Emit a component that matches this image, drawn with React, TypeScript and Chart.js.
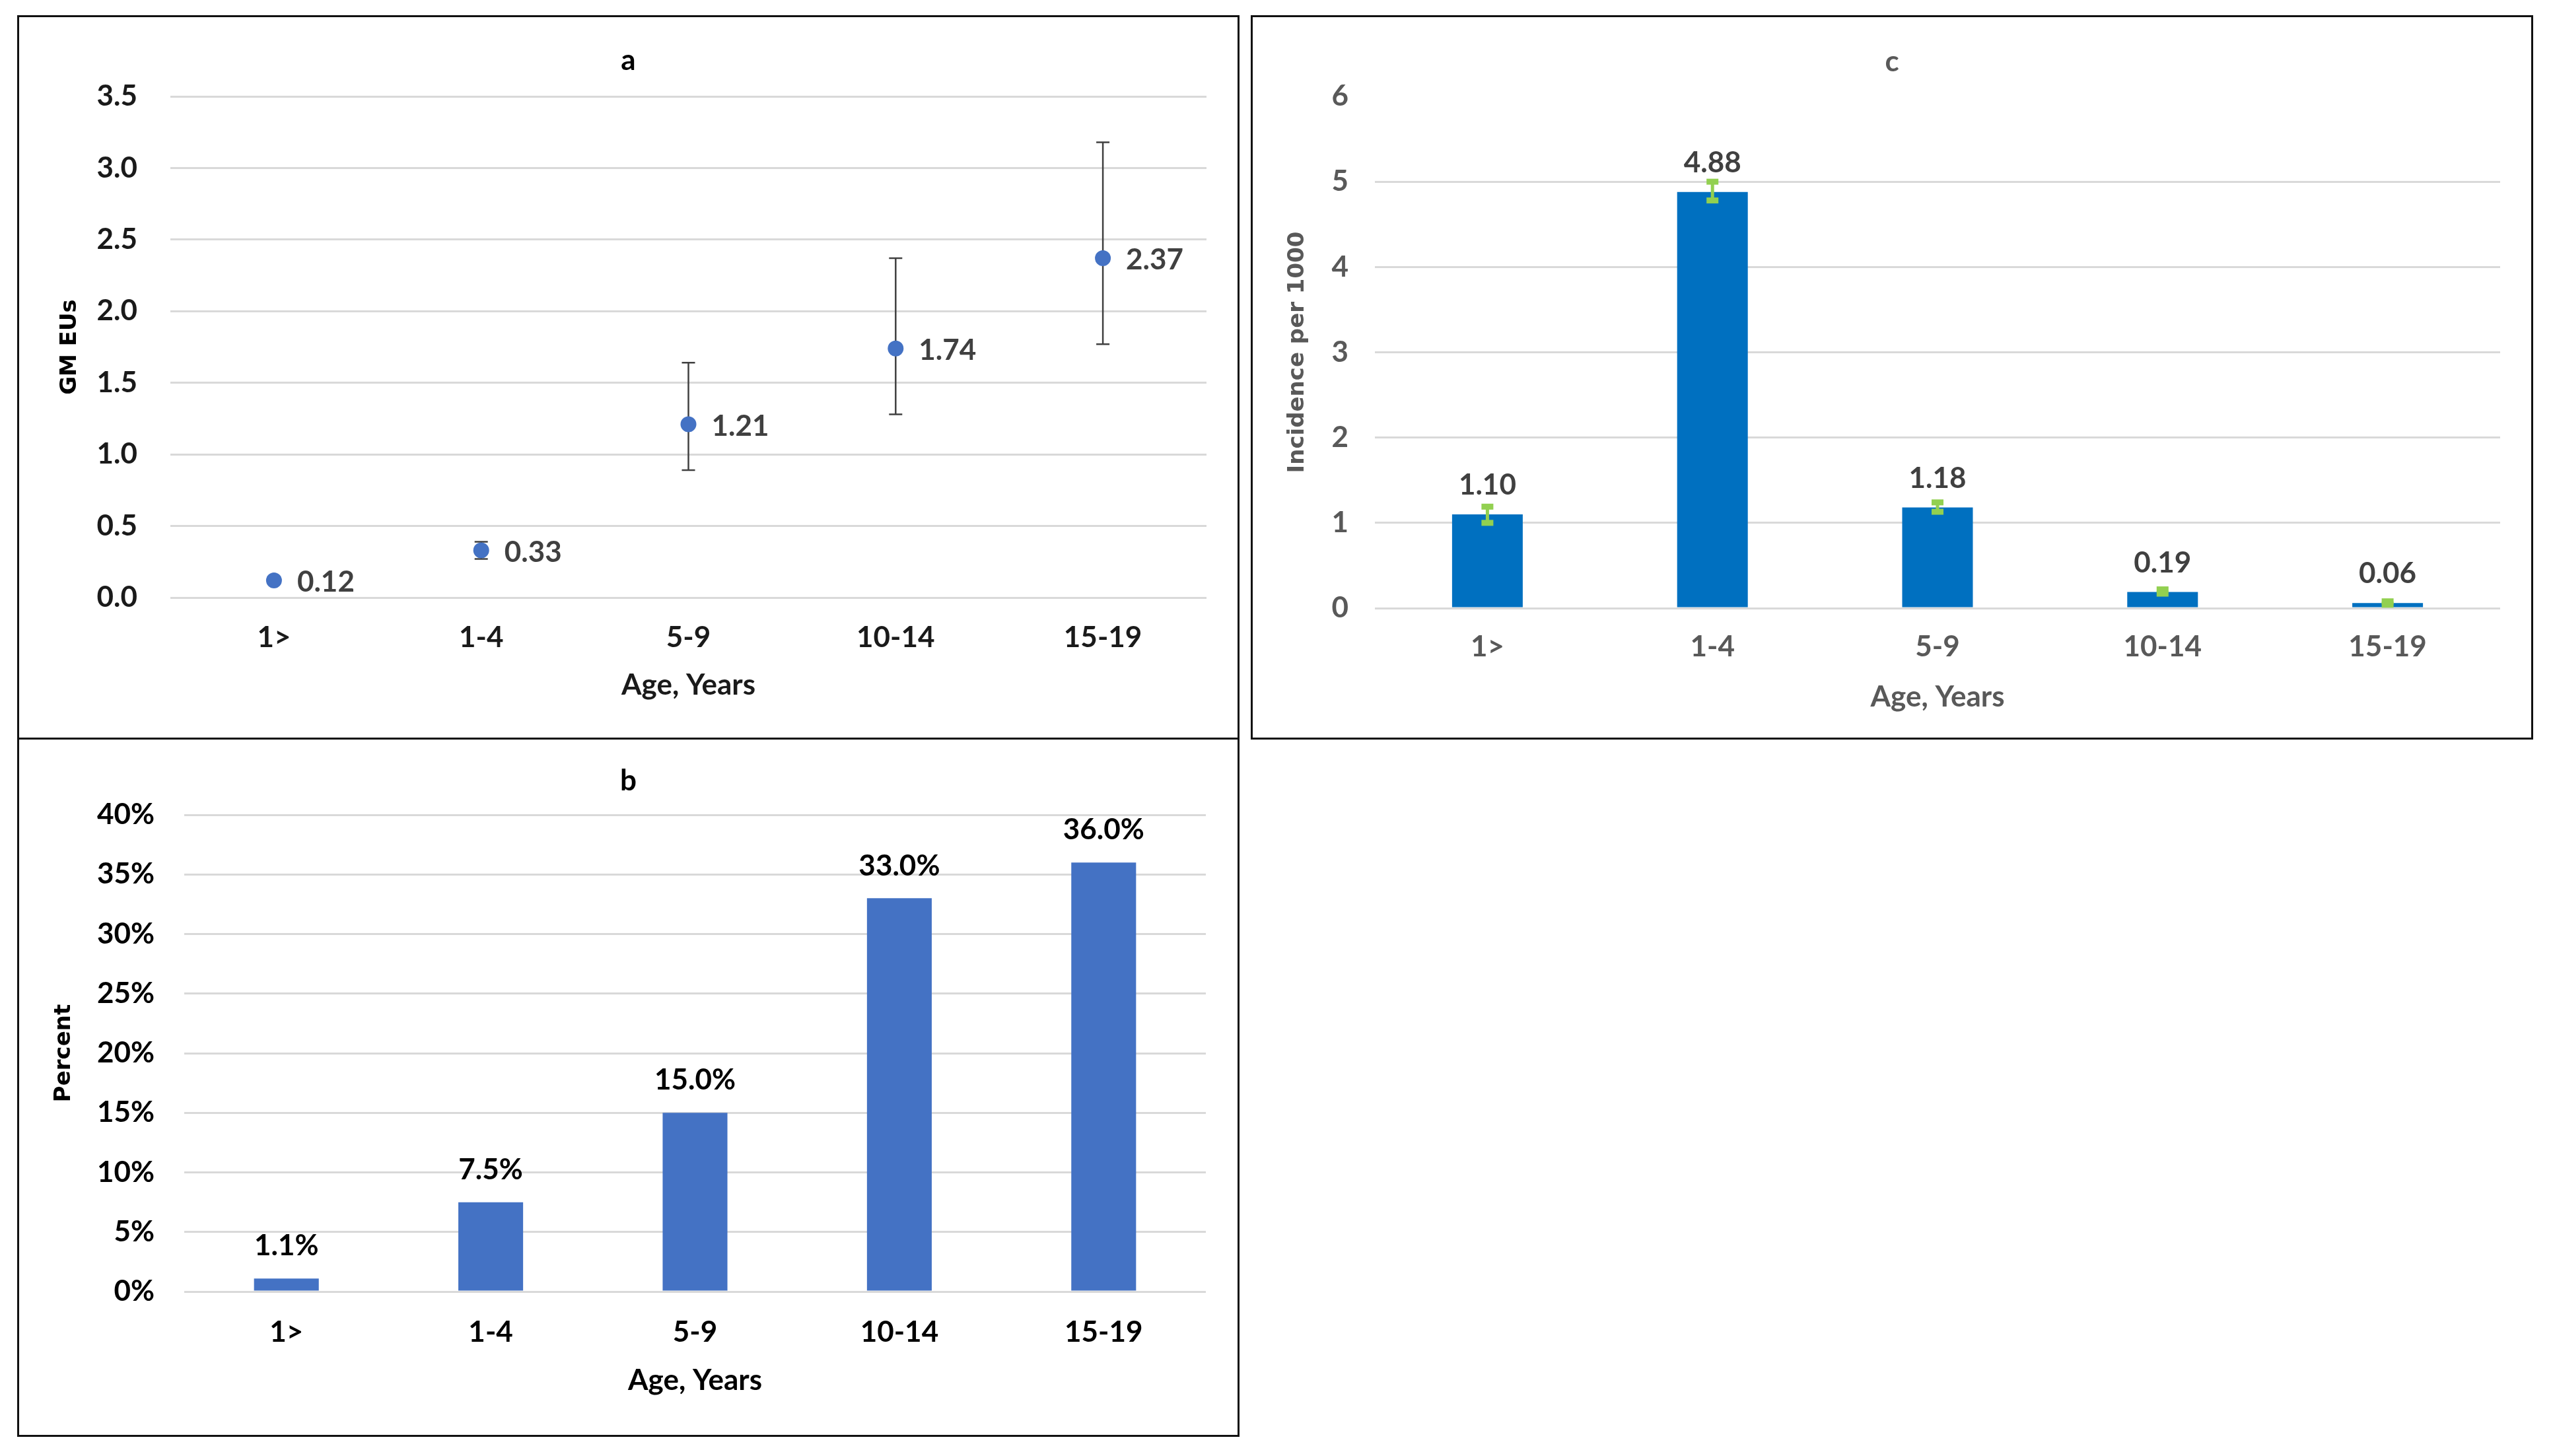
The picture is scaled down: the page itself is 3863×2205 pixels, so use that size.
import React, { useEffect, useRef } from 'react';
import { Chart, registerables } from 'chart.js';

Chart.register(...registerables);

// ---------------- data ----------------
const categories = ['1>', '1-4', '5-9', '10-14', '15-19'];

const gmValues = [0.12, 0.33, 1.21, 1.74, 2.37];
const gmLower = [0.1, 0.27, 0.89, 1.28, 1.77];
const gmUpper = [0.14, 0.39, 1.64, 2.37, 3.18];

const percentValues = [1.1, 7.5, 15.0, 33.0, 36.0];

const incidenceValues = [1.1, 4.88, 1.18, 0.19, 0.06];
const incidenceLower = [1.0, 4.78, 1.13, 0.17, 0.04];
const incidenceUpper = [1.19, 5.0, 1.24, 0.22, 0.08];

const titleA = 'a';
const titleB = 'b';
const titleC = 'c';
const xAxisTitle = 'Age, Years';
const yTitleA = 'GM EUs';
const yTitleB = 'Percent';
const yTitleC = 'Incidence per 1000';

// ---------------- styles ----------------
const FONT = "Lato, 'Liberation Sans', sans-serif";
const YTITLE_FONT = "'DejaVu Sans', Verdana, sans-serif";
const GRID = '#D9D9D9';

// ---------------- plugins ----------------
const panelTitlePlugin = {
  id: 'panelTitle',
  afterDraw(chart: any, _a: any, opts: any) {
    if (!opts || !opts.text) return;
    const { ctx, width } = chart;
    ctx.save();
    ctx.font = `bold ${opts.size}px ${FONT}`;
    ctx.fillStyle = opts.color;
    ctx.textAlign = 'center';
    ctx.textBaseline = 'middle';
    ctx.fillText(opts.text, width / 2, opts.y);
    ctx.restore();
  },
};

function drawErrors(chart: any, opts: any) {
  if (!opts || !opts.lower) return;
  const { ctx } = chart;
  const y = chart.scales.y;
  const meta = chart.getDatasetMeta(0);
  ctx.save();
  ctx.strokeStyle = opts.color;
  ctx.fillStyle = opts.color;
  ctx.lineWidth = opts.lineWidth;
  opts.lower.forEach((lo: number, i: number) => {
    const el = meta.data[i];
    if (!el) return;
    const px = el.x;
    const yl = y.getPixelForValue(lo);
    const yu = y.getPixelForValue(opts.upper[i]);
    ctx.beginPath();
    ctx.moveTo(px, yl);
    ctx.lineTo(px, yu);
    ctx.stroke();
    if (opts.capBox) {
      ctx.fillRect(px - opts.capW / 2, yu - opts.capH / 2, opts.capW, opts.capH);
      ctx.fillRect(px - opts.capW / 2, yl - opts.capH / 2, opts.capW, opts.capH);
    } else {
      ctx.beginPath();
      ctx.moveTo(px - opts.capW / 2, yu);
      ctx.lineTo(px + opts.capW / 2, yu);
      ctx.moveTo(px - opts.capW / 2, yl);
      ctx.lineTo(px + opts.capW / 2, yl);
      ctx.stroke();
    }
  });
  ctx.restore();
}

const errorBarsPlugin = {
  id: 'errorBars',
  beforeDatasetsDraw(chart: any, _a: any, opts: any) {
    if (opts && opts.behind) drawErrors(chart, opts);
  },
  afterDatasetsDraw(chart: any, _a: any, opts: any) {
    if (opts && !opts.behind) drawErrors(chart, opts);
  },
};

const valueLabelsPlugin = {
  id: 'valueLabels',
  afterDatasetsDraw(chart: any, _a: any, opts: any) {
    if (!opts || !opts.format) return;
    const { ctx } = chart;
    const meta = chart.getDatasetMeta(0);
    const values = chart.data.datasets[0].data as number[];
    ctx.save();
    ctx.font = `bold ${opts.size}px ${FONT}`;
    ctx.fillStyle = opts.color;
    ctx.textBaseline = 'middle';
    values.forEach((v: number, i: number) => {
      const el = meta.data[i];
      if (!el) return;
      const text = opts.format(v);
      if (opts.mode === 'right') {
        ctx.textAlign = 'left';
        ctx.fillText(text, el.x + opts.dx, el.y + opts.dy);
      } else {
        ctx.textAlign = 'center';
        ctx.fillText(text, el.x, el.y - opts.dy);
      }
    });
    ctx.restore();
  },
};

// ---------------- panel builder ----------------
type Geo = {
  left: number; top: number; w: number; h: number;
  cl: number; cr: number; ct: number; cb: number;
  titleY: number; yTitleX: number; yTickRight: number; xTickY: number; xTitleY: number;
};

function baseScales(geo: Geo, opt: any) {
  const tickFont = { family: FONT, size: 44, weight: 'bold' as const, lineHeight: 1 };
  const yTitleFont = { family: YTITLE_FONT, size: 34, weight: 'bold' as const, lineHeight: 1 };
  return {
    x: {
      offset: true,
      grid: { display: false, drawTicks: false },
      border: { display: false },
      ticks: {
        color: opt.tickColor,
        font: tickFont,
        padding: geo.xTickY - geo.cb - 22,
        maxRotation: 0,
        autoSkip: false,
      },
      title: {
        display: true,
        text: xAxisTitle,
        color: opt.tickColor,
        font: tickFont,
        padding: { top: 0, bottom: geo.h - geo.xTitleY - 22 },
      },
      afterFit: (s: any) => {
        s.height = geo.h - geo.cb;
      },
    },
    y: {
      min: 0,
      max: opt.max,
      grid: {
        color: opt.gridColor || GRID,
        lineWidth: 3,
        drawTicks: false,
      },
      border: { display: false },
      ticks: {
        stepSize: opt.step,
        color: opt.tickColor,
        font: tickFont,
        padding: geo.cl - geo.yTickRight,
        callback: opt.tickFormat,
      },
      title: {
        display: true,
        text: opt.yTitle,
        color: opt.yTitleColor,
        font: yTitleFont,
        padding: { top: geo.yTitleX - 17, bottom: 0 },
      },
      afterFit: (s: any) => {
        s.width = geo.cl;
      },
    },
  };
}

const geoA: Geo = {
  left: 27, top: 24, w: 1849, h: 1095,
  cl: 231, cr: 1800, ct: 122, cb: 881,
  titleY: 68, yTitleX: 79, yTickRight: 181, xTickY: 942, xTitleY: 1014,
};
const geoB: Geo = {
  left: 27, top: 1118, w: 1849, h: 1057,
  cl: 252, cr: 1799, ct: 116, cb: 838,
  titleY: 65, yTitleX: 70, yTickRight: 207, xTickY: 900, xTitleY: 973,
};
const geoC: Geo = {
  left: 1895, top: 24, w: 1940, h: 1095,
  cl: 187, cr: 1891, ct: 122, cb: 897,
  titleY: 70, yTitleX: 70, yTickRight: 147, xTickY: 956, xTitleY: 1032,
};

function commonOptions(geo: Geo) {
  return {
    responsive: false,
    maintainAspectRatio: false,
    animation: false as const,
    devicePixelRatio: 1,
    events: [],
    layout: { padding: { top: geo.ct, right: geo.w - geo.cr, bottom: 0, left: 0 } },
  };
}

function configA(): any {
  return {
    type: 'line',
    data: {
      labels: categories,
      datasets: [
        {
          data: gmValues,
          showLine: false,
          pointRadius: 12,
          pointHoverRadius: 12,
          pointBackgroundColor: '#4472C4',
          pointBorderColor: '#4472C4',
          pointBorderWidth: 0,
          borderColor: '#4472C4',
        },
      ],
    },
    options: {
      ...commonOptions(geoA),
      plugins: {
        legend: { display: false },
        tooltip: { enabled: false },
        panelTitle: { text: titleA, y: geoA.titleY, size: 44, color: '#000000' },
        errorBars: {
          lower: gmLower, upper: gmUpper, color: '#404040', lineWidth: 2.5,
          capW: 20, capH: 3, capBox: false, behind: true,
        },
        valueLabels: {
          format: (v: number) => v.toFixed(2), mode: 'right', dx: 35, dy: 3,
          size: 44, color: '#404040',
        },
      },
      scales: baseScales(geoA, {
        max: 3.5, step: 0.5, tickColor: '#1a1a1a', yTitleColor: '#000000', yTitle: yTitleA,
        tickFormat: (v: any) => Number(v).toFixed(1),
      }),
    },
    plugins: [panelTitlePlugin, errorBarsPlugin, valueLabelsPlugin],
  };
}

function configB(): any {
  return {
    type: 'bar',
    data: {
      labels: categories,
      datasets: [
        {
          data: percentValues,
          backgroundColor: '#4472C4',
          borderWidth: 0,
          categoryPercentage: 1,
          barPercentage: 0.317,
        },
      ],
    },
    options: {
      ...commonOptions(geoB),
      plugins: {
        legend: { display: false },
        tooltip: { enabled: false },
        panelTitle: { text: titleB, y: geoB.titleY, size: 44, color: '#000000' },
        valueLabels: {
          format: (v: number) => v.toFixed(1) + '%', mode: 'top', dy: 49,
          size: 44, color: '#000000',
        },
      },
      scales: baseScales(geoB, {
        max: 40, step: 5, tickColor: '#000000', yTitleColor: '#000000', yTitle: yTitleB,
        tickFormat: (v: any) => v + '%',
      }),
    },
    plugins: [panelTitlePlugin, valueLabelsPlugin],
  };
}

function configC(): any {
  return {
    type: 'bar',
    data: {
      labels: categories,
      datasets: [
        {
          data: incidenceValues,
          backgroundColor: '#0070C0',
          borderWidth: 0,
          categoryPercentage: 1,
          barPercentage: 0.314,
        },
      ],
    },
    options: {
      ...commonOptions(geoC),
      plugins: {
        legend: { display: false },
        tooltip: { enabled: false },
        panelTitle: { text: titleC, y: geoC.titleY, size: 44, color: '#595959' },
        errorBars: {
          lower: incidenceLower, upper: incidenceUpper, color: '#92D050', lineWidth: 5,
          capW: 18, capH: 9, capBox: true, behind: false,
        },
        valueLabels: {
          format: (v: number) => v.toFixed(2), mode: 'top', dy: 44,
          size: 44, color: '#404040',
        },
      },
      scales: baseScales(geoC, {
        max: 6, step: 1, tickColor: '#595959', yTitleColor: '#595959', yTitle: yTitleC,
        tickFormat: (v: any) => String(v),
        gridColor: (c: any) => (c.tick && c.tick.value === 6 ? 'rgba(0,0,0,0)' : GRID),
      }),
    },
    plugins: [panelTitlePlugin, errorBarsPlugin, valueLabelsPlugin],
  };
}

function Panel({ geo, make }: { geo: Geo; make: () => any }) {
  const ref = useRef<HTMLCanvasElement | null>(null);
  useEffect(() => {
    if (!ref.current) return;
    const chart = new Chart(ref.current, make());
    return () => chart.destroy();
  }, [geo, make]);
  return (
    <>
      <div
        style={{
          position: 'absolute',
          left: geo.left,
          top: geo.top,
          width: geo.w,
          height: geo.h,
        }}
      >
        <canvas
          ref={ref}
          width={geo.w}
          height={geo.h}
          style={{ display: 'block', width: geo.w, height: geo.h }}
        />
      </div>
      <div
        style={{
          position: 'absolute',
          left: geo.left - 1,
          top: geo.top - 1,
          width: geo.w + 2,
          height: geo.h + 2,
          border: '3px solid #111',
          boxSizing: 'border-box',
          pointerEvents: 'none',
        }}
      />
    </>
  );
}

export default function App() {
  return (
    <div
      style={{
        position: 'absolute',
        left: 0,
        top: 0,
        width: 3863,
        height: 2205,
        background: '#ffffff',
        overflow: 'hidden',
      }}
    >
      <Panel geo={geoA} make={configA} />
      <Panel geo={geoB} make={configB} />
      <Panel geo={geoC} make={configC} />
    </div>
  );
}
